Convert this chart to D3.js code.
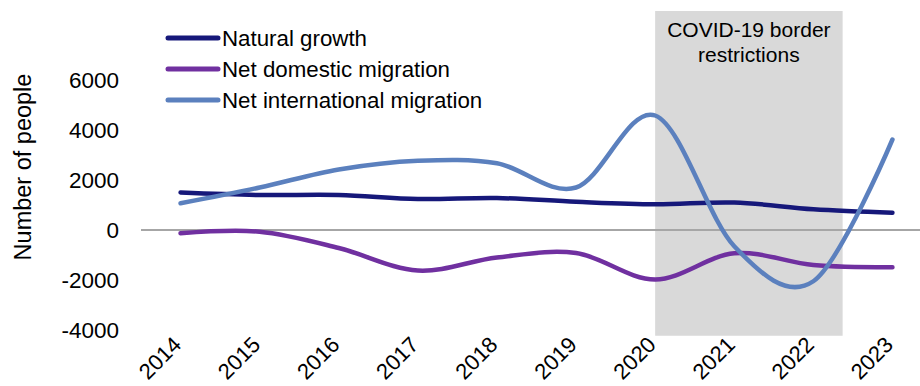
<!DOCTYPE html>
<html>
<head>
<meta charset="utf-8">
<script src="https://cdn.jsdelivr.net/npm/d3@7"></script>
<style>
  html, body { margin: 0; padding: 0; background: #fff; }
  svg { display: block; font-family: "Liberation Sans", Arial, sans-serif; }
</style>
</head>
<body>
<svg id="chart" width="920" height="386"></svg>
<script>
// Components of population change, by year
const years = ["2014", "2015", "2016", "2017", "2018", "2019", "2020", "2021", "2022", "2023"];
const naturalGrowth = [1500, 1400, 1400, 1240, 1280, 1130, 1030, 1100, 830, 690];
const netDomestic = [-130, -70, -720, -1620, -1100, -920, -1980, -930, -1400, -1490];
const netInternational = [1070, 1700, 2420, 2770, 2670, 1700, 4580, -650, -2050, 3620];
const yTicks = [-4000, -2000, 0, 2000, 4000, 6000];

const seriesNames = ["Natural growth", "Net domestic migration", "Net international migration"];
const seriesColors = ["#16187a", "#7030a0", "#5b80be"];
const seriesValues = [naturalGrowth, netDomestic, netInternational];

const covidLabel = ["COVID-19 border", "restrictions"];

const svg = d3.select("#chart");
const plotLeft = 141, plotRight = 932;

const x = d3.scaleBand().domain(years).range([plotLeft, plotRight]);
const cx = d => x(d) + x.bandwidth() / 2;
const y = d3.scaleLinear().domain([-4000, 6000]).range([330, 80]);

// Shaded period of border restrictions
const boxLeft = cx("2020");
const boxRight = cx("2022") + x.bandwidth() * 0.37;
svg.append("rect")
  .attr("x", boxLeft)
  .attr("y", y(8760))
  .attr("width", boxRight - boxLeft)
  .attr("height", y(-4230) - y(8760))
  .attr("fill", "#d9d9d9");

const lbl = svg.append("text")
  .attr("x", (boxLeft + boxRight) / 2)
  .attr("text-anchor", "middle")
  .attr("font-size", 21)
  .attr("fill", "#000");
covidLabel.forEach((t, i) => {
  lbl.append("tspan").attr("x", (boxLeft + boxRight) / 2).attr("y", 37 + i * 25).text(t);
});

// Zero baseline
svg.append("line")
  .attr("x1", plotLeft).attr("x2", 920)
  .attr("y1", y(0)).attr("y2", y(0))
  .attr("stroke", "#a6a6a6").attr("stroke-width", 2);

// Y axis labels (plain hyphen for negatives)
const yAxis = d3.axisLeft(y).tickValues(yTicks).tickSize(0).tickPadding(0).tickFormat(d => String(d));
const yg = svg.append("g").attr("transform", "translate(119,0)").call(yAxis);
yg.select(".domain").remove();
yg.selectAll("text").attr("font-size", 22.5).attr("fill", "#000").attr("font-family", "Liberation Sans, Arial, sans-serif");

// Y axis title
svg.append("text")
  .attr("transform", "translate(31,167) rotate(-90)")
  .attr("text-anchor", "middle")
  .attr("font-size", 23.5)
  .attr("fill", "#000")
  .text("Number of people");

// X axis labels (rotated)
const xAxis = d3.axisBottom(x).tickSize(0).tickPadding(0);
const xg = svg.append("g").attr("transform", "translate(0,335)").call(xAxis);
xg.select(".domain").remove();
xg.selectAll("text")
  .attr("font-size", 22).attr("fill", "#000")
  .attr("font-family", "Liberation Sans, Arial, sans-serif")
  .attr("text-anchor", "end")
  .attr("dy", "0.71em")
  .attr("transform", "translate(-9,0) rotate(-45)");

// Smoothed series lines
const line = d3.line()
  .x((d, i) => cx(years[i]))
  .y(d => y(d))
  .curve(d3.curveCardinal.tension(0));

seriesValues.forEach((vals, i) => {
  svg.append("path")
    .datum(vals)
    .attr("d", line)
    .attr("fill", "none")
    .attr("stroke", seriesColors[i])
    .attr("stroke-width", 4.5)
    .attr("stroke-linecap", "round");
});

// Legend
const legend = svg.append("g");
seriesNames.forEach((name, i) => {
  const ly = 38 + i * 31;
  legend.append("line")
    .attr("x1", 168).attr("x2", 218)
    .attr("y1", ly).attr("y2", ly)
    .attr("stroke", seriesColors[i]).attr("stroke-width", 5)
    .attr("stroke-linecap", "round");
  legend.append("text")
    .attr("x", 222).attr("y", ly)
    .attr("dy", "0.36em")
    .attr("font-size", 22.3)
    .attr("fill", "#000")
    .text(name);
});
</script>
</body>
</html>
